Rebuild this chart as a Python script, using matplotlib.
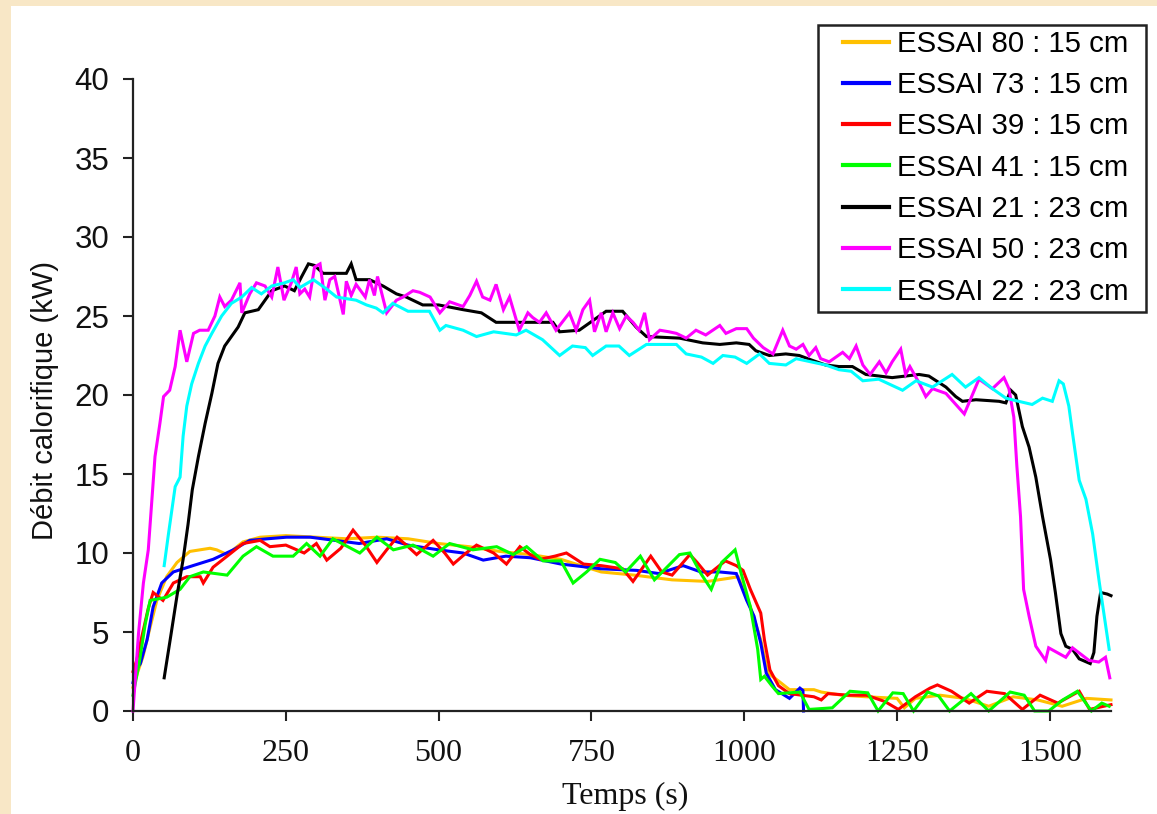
import matplotlib
matplotlib.use("Agg")
import matplotlib.pyplot as plt
from matplotlib.patches import Rectangle

# ---------------- data ----------------
x80 = [0, 8, 16, 28, 39, 55, 72, 93, 126, 137, 154, 180, 208, 250, 300, 350, 400, 450, 500, 550,
       600, 650, 700, 766, 820, 882, 940, 975, 990, 1010, 1027, 1039, 1056, 1074, 1114, 1126, 1160,
       1200, 1250, 1262, 1280, 1320, 1360, 1400, 1440, 1480, 1520, 1560, 1600]
y80 = [1.5, 2.5, 3.4, 5.3, 7.0, 8.5, 9.4, 10.1, 10.3, 10.2, 9.9, 10.7, 11.0, 11.1, 11.0, 10.9, 11.0,
       10.9, 10.6, 10.4, 10.1, 9.9, 9.6, 8.8, 8.6, 8.3, 8.2, 8.4, 8.5, 6.6, 4.5, 2.4, 1.9, 1.35, 1.35,
       1.2, 1.0, 0.9, 0.8, 0.2, 0.8, 1.0, 0.8, 0.3, 0.9, 0.7, 0.3, 0.8, 0.7]

x73 = [0, 5, 12, 23, 33, 47, 66, 98, 131, 164, 191, 220, 251, 290, 330, 370, 415, 450, 500, 540,
       573, 610, 650, 700, 766, 824, 860, 900, 929, 960, 987, 1004, 1016, 1027, 1036, 1051, 1074,
       1091, 1096, 1097]
y73 = [1.8, 2.6, 3.0, 4.5, 6.6, 8.1, 8.8, 9.2, 9.6, 10.2, 10.8, 10.9, 11.0, 11.0, 10.8, 10.6, 10.9,
       10.5, 10.2, 10.0, 9.55, 9.8, 9.7, 9.3, 9.0, 8.9, 8.7, 9.2, 8.8, 8.8, 8.7, 7.0, 6.0, 4.3, 2.4,
       1.35, 0.8, 1.45, 1.3, 0.0]

x39 = [0, 6, 15, 25, 33, 49, 66, 88, 110, 115, 131, 154, 180, 208, 224, 250, 280, 300, 317, 340,
       360, 380, 399, 415, 432, 450, 464, 491, 510, 524, 545, 562, 590, 611, 633, 650, 666, 690,
       709, 737, 766, 801, 818, 847, 865, 882, 911, 923, 940, 969, 987, 998, 1010, 1027, 1033,
       1042, 1056, 1074, 1114, 1126, 1137, 1170, 1200, 1230, 1252, 1280, 1304, 1316, 1339, 1368,
       1397, 1426, 1455, 1484, 1513, 1548, 1565, 1588, 1600]
y39 = [2.5, 3.2, 4.8, 6.5, 7.5, 7.0, 8.1, 8.5, 8.5, 8.1, 9.1, 9.8, 10.6, 10.8, 10.4, 10.5, 10.0,
       10.6, 9.55, 10.3, 11.45, 10.5, 9.4, 10.2, 11.0, 10.4, 9.9, 10.8, 10.0, 9.3, 10.0, 10.5, 10.0,
       9.3, 10.4, 9.9, 9.6, 9.8, 10.0, 9.3, 9.2, 9.0, 8.2, 9.8, 8.8, 8.6, 9.9, 9.4, 8.6, 9.5, 9.2,
       8.9, 7.7, 6.2, 4.5, 2.6, 1.6, 1.1, 0.9, 0.7, 1.1, 1.0, 1.0, 0.6, 0.1, 0.9, 1.45, 1.65, 1.25,
       0.5, 1.25, 1.1, 0.1, 1.0, 0.5, 1.25, 0.1, 0.3, 0.4]

x41 = [0, 10, 20, 28, 55, 77, 93, 115, 154, 180, 202, 229, 262, 284, 306, 327, 371, 399, 426, 458,
       491, 518, 556, 595, 622, 644, 671, 700, 720, 742, 764, 789, 806, 830, 853, 894, 911, 929,
       946, 963, 985, 995, 1010, 1022, 1027, 1033, 1045, 1056, 1091, 1106, 1144, 1173, 1202, 1219,
       1243, 1260, 1277, 1300, 1318, 1336, 1371, 1400, 1435, 1458, 1475, 1498, 1521, 1545, 1568,
       1585, 1597]
y41 = [1.0, 3.0, 5.5, 7.0, 7.2, 7.7, 8.5, 8.8, 8.6, 9.8, 10.4, 9.8, 9.8, 10.6, 9.8, 10.9, 10.0,
       11.0, 10.2, 10.5, 9.8, 10.6, 10.2, 10.4, 9.9, 10.4, 9.5, 9.5, 8.1, 8.8, 9.6, 9.4, 8.8, 9.8,
       8.3, 9.9, 10.0, 8.7, 7.7, 9.4, 10.2, 8.7, 6.6, 3.9, 2.0, 2.2, 1.6, 1.1, 1.2, 0.1, 0.2, 1.25,
       1.15, 0.0, 1.15, 1.1, 0.0, 1.2, 0.95, 0.0, 1.1, 0.0, 1.2, 1.0, 0.0, 0.0, 0.7, 1.25, 0.0, 0.5,
       0.3]

x21 = [51, 62, 72, 82, 90, 97, 107, 118, 129, 139, 150, 161, 172, 183, 205, 216, 227, 248, 264,
       276, 287, 297, 311, 349, 357, 365, 387, 409, 431, 447, 474, 500, 540, 570, 594, 651, 687,
       698, 730, 752, 774, 801, 823, 840, 894, 932, 960, 987, 1008, 1019, 1041, 1068, 1090, 1111,
       1133, 1155, 1177, 1199, 1242, 1286, 1302, 1330, 1346, 1357, 1379, 1417, 1428, 1436, 1444,
       1455, 1466, 1477, 1488, 1501, 1509, 1518, 1526, 1537, 1548, 1566, 1572, 1577, 1583, 1594,
       1600]
y21 = [2.1, 4.8, 7.3, 9.6, 11.8, 14.0, 16.1, 18.2, 20.1, 22.0, 23.1, 23.7, 24.3, 25.2, 25.4, 26.0,
       26.6, 26.9, 26.6, 27.5, 28.3, 28.2, 27.7, 27.7, 28.3, 27.3, 27.3, 26.9, 26.4, 26.2, 25.7,
       25.7, 25.4, 25.2, 24.6, 24.6, 24.6, 24.0, 24.1, 24.7, 25.3, 25.3, 24.3, 23.7, 23.6, 23.3,
       23.2, 23.3, 23.2, 22.8, 22.5, 22.6, 22.5, 22.2, 21.9, 21.8, 21.8, 21.3, 21.1, 21.3, 21.2,
       20.5, 19.9, 19.6, 19.7, 19.6, 19.5, 20.3, 20.0, 18.0, 16.7, 14.8, 12.3, 9.6, 7.5, 4.9, 4.1,
       3.9, 3.3, 3.0, 3.7, 6.0, 7.5, 7.4, 7.3]

x50 = [0, 9, 17, 25, 36, 44, 50, 60, 69, 77, 88, 99, 109, 123, 134, 142, 150, 161, 175, 178,
       191, 202, 216, 227, 237, 247, 259, 267, 273, 281, 289, 297, 306, 314, 322, 330, 344, 349,
       357, 365, 380, 387, 395, 400, 415, 431, 442, 458, 469, 486, 502, 518, 540, 551, 562, 572,
       584, 594, 606, 616, 632, 646, 654, 665, 676, 692, 714, 725, 736, 747, 755, 766, 774, 785,
       796, 807, 818, 828, 837, 845, 862, 877, 889, 905, 921, 937, 960, 970, 987, 1004, 1015,
       1031, 1047, 1063, 1074, 1085, 1096, 1106, 1117, 1125, 1139, 1161, 1172, 1183, 1194, 1206,
       1221, 1232, 1242, 1256, 1264, 1271, 1287, 1297, 1308, 1330, 1360, 1384, 1406, 1425, 1433,
       1441, 1446, 1452, 1457, 1466, 1477, 1493, 1498, 1526, 1537, 1564, 1580, 1591, 1598]
y50 = [0.0, 4.9, 8.1, 10.2, 16.1, 18.2, 19.9, 20.3, 21.8, 24.1, 22.1, 23.9, 24.1, 24.1, 25.0,
       26.2, 25.6, 26.0, 27.1, 25.2, 26.4, 27.1, 26.9, 26.2, 28.1, 26.0, 27.1, 28.1, 26.4, 26.7,
       26.2, 28.1, 28.3, 26.0, 27.3, 27.5, 25.1, 27.2, 26.3, 27.0, 26.2, 27.3, 26.3, 27.5, 25.2,
       26.0, 26.2, 26.6, 26.5, 26.2, 25.2, 25.9, 25.6, 26.3, 27.2, 26.2, 26.0, 27.0, 25.4, 26.2,
       24.1, 25.2, 24.9, 24.6, 25.2, 24.1, 25.2, 24.1, 25.4, 26.0, 24.0, 25.2, 24.0, 25.2, 24.2,
       25.0, 24.6, 24.1, 25.2, 23.5, 24.1, 24.0, 23.9, 23.6, 24.1, 23.8, 24.4, 23.9, 24.2, 24.2,
       23.6, 23.0, 22.6, 24.1, 23.1, 22.9, 23.2, 22.5, 23.0, 22.3, 22.1, 22.7, 22.3, 23.1, 21.9,
       21.3, 22.1, 21.4, 22.1, 22.9, 21.3, 21.8, 20.7, 19.9, 20.4, 20.1, 18.8, 21.0, 20.4, 21.1,
       20.4, 18.6, 15.5, 12.3, 7.7, 6.0, 4.1, 3.2, 4.0, 3.4, 4.0, 3.2, 3.1, 3.4, 2.1]

x22 = [51, 58, 69, 77, 82, 88, 96, 107, 118, 129, 145, 161, 178, 194, 210, 227, 248, 262, 273, 295,
       317, 333, 365, 382, 398, 409, 425, 450, 485, 502, 512, 540, 562, 590, 627, 643, 670, 698,
       719, 740, 752, 774, 795, 812, 840, 889, 905, 930, 949, 965, 985, 1004, 1025, 1041, 1068,
       1085, 1133, 1155, 1175, 1194, 1220, 1259, 1281, 1308, 1340, 1362, 1384, 1406, 1428, 1449,
       1471, 1488, 1504, 1515, 1522, 1531, 1537, 1548, 1559, 1570, 1581, 1589, 1597]
y22 = [9.2, 11.2, 14.2, 14.8, 17.4, 19.3, 20.7, 22.0, 23.1, 23.9, 25.0, 25.8, 26.2, 26.8, 26.4,
       26.9, 27.1, 27.3, 26.8, 27.3, 26.7, 26.2, 26.0, 25.7, 25.5, 25.2, 25.8, 25.3, 25.3, 24.1,
       24.4, 24.1, 23.7, 24.0, 23.8, 24.1, 23.5, 22.5, 23.1, 23.0, 22.5, 23.1, 23.1, 22.5, 23.2,
       23.2, 22.6, 22.4, 22.0, 22.5, 22.4, 22.0, 22.6, 22.0, 21.9, 22.3, 21.9, 21.6, 21.5, 20.9,
       21.0, 20.3, 20.9, 20.5, 21.3, 20.5, 21.1, 20.4, 19.8, 19.6, 19.4, 19.8, 19.6, 20.9, 20.7,
       19.3, 17.6, 14.6, 13.4, 11.2, 8.1, 6.0, 3.9]

labels = ["ESSAI 80 : 15 cm", "ESSAI 73 : 15 cm", "ESSAI 39 : 15 cm", "ESSAI 41 : 15 cm",
          "ESSAI 21 : 23 cm", "ESSAI 50 : 23 cm", "ESSAI 22 : 23 cm"]
colors = ["#FFC000", "#0000FF", "#FF0000", "#00FF00", "#000000", "#FF00FF", "#00FFFF"]
series = [(x80, y80), (x73, y73), (x39, y39), (x41, y41), (x21, y21), (x50, y50), (x22, y22)]

xticks = [0, 250, 500, 750, 1000, 1250, 1500]
yticks = [0, 5, 10, 15, 20, 25, 30, 35, 40]

# ---------------- figure ----------------
W, H = 1157, 814
fig = plt.figure(figsize=(W / 100, H / 100), dpi=100)
fig.patch.set_facecolor("#F8E7C6")
fig.patches.append(Rectangle((11 / W, 0), 1 - 11 / W, 1 - 6 / H, transform=fig.transFigure,
                             facecolor="white", edgecolor="none", zorder=-5))

ax = fig.add_axes([133 / W, 103 / H, 978 / W, 632 / H])
ax.set_facecolor("none")
ax.set_zorder(2)

for (xs, ys), c, lab in zip(series, colors, labels):
    ax.plot(xs, ys, color=c, lw=2.2, label=lab, solid_joinstyle="miter", clip_on=False)

ax.set_xlim(0, 1600)
ax.set_ylim(0, 40)
ax.set_xticks(xticks)
ax.set_yticks(yticks)
for s in ["top", "right"]:
    ax.spines[s].set_visible(False)
for s in ["left", "bottom"]:
    ax.spines[s].set_linewidth(1.6)
    ax.spines[s].set_color("#222222")

ax.tick_params(axis="both", direction="out", length=7, width=1.5, color="#222222")
ax.tick_params(axis="y", pad=10)
ax.tick_params(axis="x", pad=13)
for t in ax.get_yticklabels():
    t.set_fontfamily("Liberation Sans")
    t.set_fontsize(22.5)
    t.set_color("#111111")
for t in ax.get_xticklabels():
    t.set_fontfamily("Liberation Serif")
    t.set_fontsize(23)
    t.set_color("#111111")

fig.text(625 / W, 1 - 796 / H, "Temps (s)", family="Liberation Serif", fontsize=23,
         ha="center", va="center", color="#111111")
fig.text(45 / W, 1 - 400 / H, "Débit calorifique (kW)", family="Liberation Sans", fontsize=21,
         ha="center", va="center", rotation=90, color="#111111")

# legend frame drawn separately for exact placement
fig.patches.append(Rectangle((818 / W, 1 - 312 / H), (1146 - 818) / W, (312 - 25) / H,
                             transform=fig.transFigure, facecolor="white",
                             edgecolor="#222222", linewidth=1.8, zorder=3))
leg = fig.legend(loc="upper left", bbox_to_anchor=(843 / W, 1 - 30 / H),
                 prop={"family": "Liberation Sans", "size": 21.2},
                 frameon=False, handlelength=1.55, handletextpad=0.3, labelspacing=0.45,
                 borderpad=0, borderaxespad=0)
leg.set_zorder(4)
for l in leg.get_lines():
    l.set_linewidth(3)

fig.savefig("out.png", dpi=100, facecolor=fig.get_facecolor())
